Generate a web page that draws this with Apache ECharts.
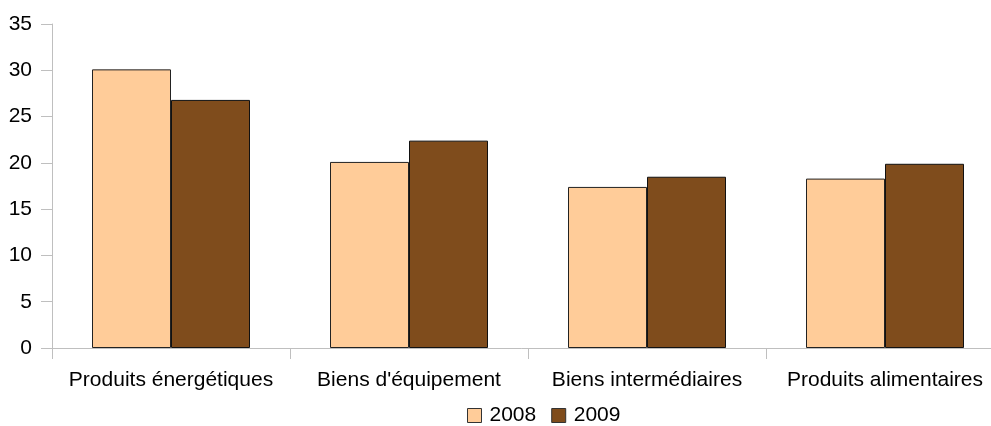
<!DOCTYPE html>
<html>
<head>
<meta charset="utf-8">
<script src="https://cdn.jsdelivr.net/npm/echarts@6/dist/echarts.min.js"></script>
<style>
  html, body { margin: 0; padding: 0; background: #fff; }
  #chart { width: 991px; height: 426px; }
</style>
</head>
<body>
<div id="chart"></div>
<script>
// Product categories on the x axis
const categories = ['Produits énergétiques', "Biens d'équipement", 'Biens intermédiaires', 'Produits alimentaires'];
// Values per year
const values2008 = [30.1, 20.1, 17.4, 18.3];
const values2009 = [26.8, 22.4, 18.5, 19.9];
const yTicks = { min: 0, max: 35, interval: 5 };

const font = 'Liberation Sans, Arial, sans-serif';
const axisGrey = '#bfbfbf';

const chart = echarts.init(document.getElementById('chart'), null, { renderer: 'canvas' });
chart.setOption({
  animation: false,
  backgroundColor: '#ffffff',
  // plot area runs slightly past the right edge of the canvas
  grid: { left: 52, width: 952, top: 24, height: 324, containLabel: false, outerBoundsMode: 'none' },
  legend: {
    left: 467, top: 405, padding: 0,
    icon: 'rect',
    itemWidth: 14, itemHeight: 14, itemGap: 15,
    itemStyle: { borderColor: '#333', borderWidth: 1 },
    textStyle: { fontFamily: font, fontSize: 21, color: '#000', padding: [0, 0, 0, 3] },
    data: ['2008', '2009']
  },
  xAxis: {
    type: 'category',
    data: categories,
    axisLine: { lineStyle: { color: axisGrey, width: 1 } },
    axisTick: { show: true, length: 11, lineStyle: { color: axisGrey } },
    axisLabel: { margin: 22, fontFamily: font, fontSize: 21, color: '#000', interval: 0 },
    splitLine: { show: false }
  },
  yAxis: {
    type: 'value',
    min: yTicks.min, max: yTicks.max, interval: yTicks.interval,
    axisLine: { show: true, lineStyle: { color: axisGrey, width: 1 } },
    axisTick: { show: true, length: 11, lineStyle: { color: axisGrey } },
    axisLabel: { margin: 20, fontFamily: font, fontSize: 21, color: '#000' },
    splitLine: { show: false }
  },
  series: [
    {
      name: '2008', type: 'bar', data: values2008,
      barWidth: 79, barGap: '0%',
      itemStyle: { color: '#ffcc99', borderColor: '#222', borderWidth: 1 }
    },
    {
      name: '2009', type: 'bar', data: values2009,
      barWidth: 79, barGap: '0%',
      itemStyle: { color: '#7f4c1c', borderColor: '#111', borderWidth: 1 }
    }
  ]
});
</script>
</body>
</html>
